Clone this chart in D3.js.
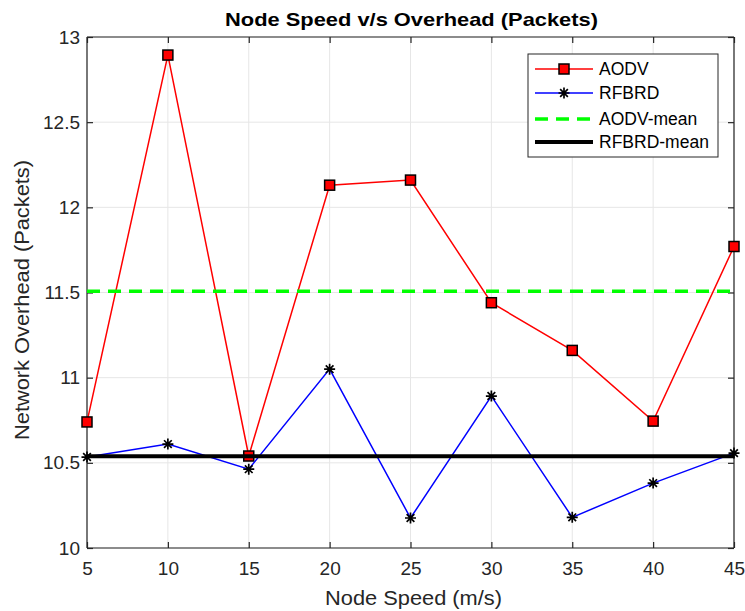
<!DOCTYPE html>
<html><head><meta charset="utf-8">
<script src="https://cdn.jsdelivr.net/npm/d3@7"></script>
<style>body{margin:0;background:#fff}svg{display:block}text{font-family:"Liberation Sans",Arial,sans-serif}</style>
</head><body><svg id="c" width="745" height="611"></svg>
<script>
const speeds = [5,10,15,20,25,30,35,40,45];
const aodv = [10.74,12.894,10.54,12.13,12.16,11.44,11.16,10.745,11.77];
const rfbrd = [10.534,10.61,10.463,11.05,10.176,10.892,10.18,10.381,10.557];
const aodvMean = 11.508;
const rfbrdMean = 10.538;
const xTicks = [5,10,15,20,25,30,35,40,45];
const yTicks = [10,10.5,11,11.5,12,12.5,13];
const legendLabels = ["AODV","RFBRD","AODV-mean","RFBRD-mean"];

const svg = d3.select("#c");
const L=87,R=734,T=37,B=548;
const x = d3.scaleLinear().domain([5,45]).range([L,R]);
const y = d3.scaleLinear().domain([10,13]).range([B,T]);
const axisCol="#262626";

// grid
const g = svg.append("g");
g.selectAll(".gx").data(xTicks).join("line").attr("x1",d=>x(d)).attr("x2",d=>x(d)).attr("y1",T).attr("y2",B).attr("stroke","#e6e6e6").attr("stroke-width",1);
g.selectAll(".gy").data(yTicks).join("line").attr("y1",d=>y(d)).attr("y2",d=>y(d)).attr("x1",L).attr("x2",R).attr("stroke","#e6e6e6").attr("stroke-width",1);

// axes
const xa = svg.append("g").attr("transform",`translate(0,${B})`).call(d3.axisBottom(x).tickValues(xTicks).tickSize(-6).tickPadding(14).tickFormat(d3.format("d")));
const xt = svg.append("g").attr("transform",`translate(0,${T})`).call(d3.axisTop(x).tickValues(xTicks).tickSize(-6).tickFormat(""));
const ya = svg.append("g").attr("transform",`translate(${L},0)`).call(d3.axisLeft(y).tickValues(yTicks).tickSize(-6).tickPadding(7).tickFormat(d=>String(d)));
const yr = svg.append("g").attr("transform",`translate(${R},0)`).call(d3.axisRight(y).tickValues(yTicks).tickSize(-6).tickFormat(""));
[xa,xt,ya,yr].forEach(a=>{a.selectAll("path,line").attr("stroke",axisCol).attr("stroke-width",1.2);a.selectAll("text").attr("fill",axisCol).style("font-size","19px").style("font-family","'Liberation Sans',Arial,sans-serif");});
xa.select(".domain").attr("d",`M${L},0H${R}`);
xt.select(".domain").attr("d",`M${L},0H${R}`);
ya.select(".domain").attr("d",`M0,${T}V${B}`);
yr.select(".domain").attr("d",`M0,${T}V${B}`);

// series
const line = d3.line().x((d,i)=>x(speeds[i])).y(d=>y(d));
svg.append("path").datum(aodv).attr("d",line).attr("fill","none").attr("stroke","#ff0000").attr("stroke-width",1.5);
svg.selectAll(".sq").data(aodv).join("rect").attr("x",(d,i)=>x(speeds[i])-5).attr("y",d=>y(d)-5).attr("width",10).attr("height",10).attr("fill","#ff0000").attr("stroke","#000").attr("stroke-width",1.5);
svg.append("path").datum(rfbrd).attr("d",line).attr("fill","none").attr("stroke","#0000ff").attr("stroke-width",1.5);
const star = s=>`M${-s},0H${s}M0,${-s}V${s}M${-s*0.7},${-s*0.7}L${s*0.7},${s*0.7}M${-s*0.7},${s*0.7}L${s*0.7},${-s*0.7}`;
svg.selectAll(".st").data(rfbrd).join("path").attr("transform",(d,i)=>`translate(${x(speeds[i])},${y(d)})`).attr("d",star(5.5)).attr("stroke","#000").attr("stroke-width",1.7).attr("fill","none");

svg.append("line").attr("x1",L).attr("x2",R).attr("y1",y(aodvMean)).attr("y2",y(aodvMean)).attr("stroke","#00ff00").attr("stroke-width",3.5).attr("stroke-dasharray","13,8");
svg.append("line").attr("x1",L).attr("x2",R).attr("y1",y(rfbrdMean)).attr("y2",y(rfbrdMean)).attr("stroke","#000").attr("stroke-width",4);

// legend
const lg = svg.append("g");
lg.append("rect").attr("x",528).attr("y",54).attr("width",190).attr("height",103).attr("fill","#fff").attr("stroke","#262626").attr("stroke-width",1);
const ly = [69,93,119,142];
legendLabels.forEach((t,i)=>{
  const yy=ly[i];
  const ln=lg.append("line").attr("x1",535).attr("x2",593).attr("y1",yy).attr("y2",yy);
  if(i===0){ln.attr("stroke","#ff0000").attr("stroke-width",1.5);lg.append("rect").attr("x",559).attr("y",yy-5).attr("width",10).attr("height",10).attr("fill","#ff0000").attr("stroke","#000").attr("stroke-width",1.5);}
  if(i===1){ln.attr("stroke","#0000ff").attr("stroke-width",1.5);lg.append("path").attr("transform",`translate(564,${yy})`).attr("d",star(5.5)).attr("stroke","#000").attr("stroke-width",1.7);}
  if(i===2){ln.attr("stroke","#00ff00").attr("stroke-width",3.5).attr("stroke-dasharray","13,8");}
  if(i===3){ln.attr("stroke","#000").attr("stroke-width",4);}
  lg.append("text").attr("x",599).attr("y",yy+6).text(t).style("font-size","17.5px").attr("fill","#000");
});

// titles
svg.append("text").attr("x",225).attr("y",26).attr("textLength",373).attr("lengthAdjust","spacingAndGlyphs").style("font-size","18.5px").style("font-weight","bold").attr("fill","#000").text("Node Speed v/s Overhead (Packets)");
svg.append("text").attr("x",325).attr("y",605).attr("textLength",177).attr("lengthAdjust","spacingAndGlyphs").style("font-size","19.5px").attr("fill",axisCol).text("Node Speed (m/s)");
svg.append("text").attr("transform","translate(29,440) rotate(-90)").attr("textLength",280).attr("lengthAdjust","spacingAndGlyphs").style("font-size","19.5px").attr("fill",axisCol).text("Network Overhead (Packets)");
</script></body></html>
